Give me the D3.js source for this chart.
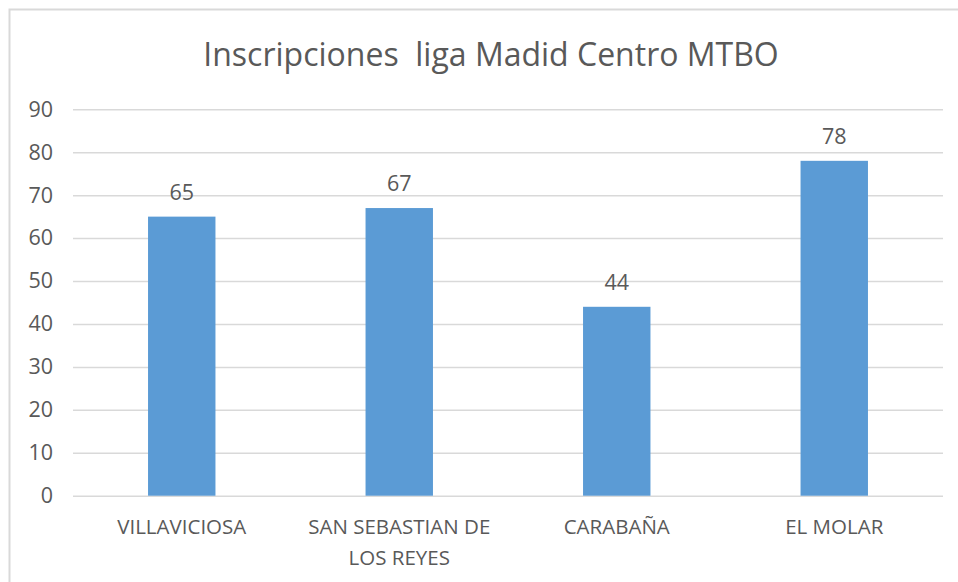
<!DOCTYPE html>
<html>
<head>
<meta charset="utf-8">
<script src="https://cdn.jsdelivr.net/npm/d3@7"></script>
<style>
  html, body { margin: 0; padding: 0; background: white; }
  svg { display: block; }
</style>
</head>
<body>
<svg id="chart" width="958" height="582"></svg>
<script>
/* DATA */
const titleText = 'Inscripciones  liga Madid Centro MTBO'
const categories = [['VILLAVICIOSA'], ['SAN SEBASTIAN DE', 'LOS REYES'], ['CARABAÑA'], ['EL MOLAR']]
const values = [65, 67, 44, 78]
const yTicks = [0, 10, 20, 30, 40, 50, 60, 70, 80, 90]

/* COLOURS */
const barBlue = '#5b9bd5'
const textGrey = '#595959'
const gridGrey = '#d9d9d9'
const fontFamily = "'Open Sans', 'DejaVu Sans', sans-serif"

const svg = d3.select('#chart')

// Chart frame (runs off the right and bottom of the picture)
svg.append('rect')
  .attr('x', 9.5)
  .attr('y', 9.5)
  .attr('width', 1000)
  .attr('height', 640)
  .attr('fill', 'white')
  .attr('stroke', gridGrey)
  .attr('stroke-width', 2)

// Title
svg.append('text')
  .attr('x', 491)
  .attr('y', 66)
  .attr('text-anchor', 'middle')
  .attr('font-family', fontFamily)
  .attr('font-size', 32)
  .attr('fill', textGrey)
  .style('white-space', 'pre')
  .text(titleText)

/* SCALES */
const plot = { left: 73, right: 943, top: 109.3, bottom: 495.7 }

const x = d3.scaleBand()
  .domain(d3.range(categories.length))
  .range([plot.left, plot.right])
  .paddingInner(0.69)
  .paddingOuter(0.345)

const y = d3.scaleLinear()
  .domain([0, 90])
  .range([plot.bottom, plot.top])

/* GRIDLINES + Y AXIS */
const yAxis = svg.append('g')
  .attr('transform', `translate(${plot.left},0)`)
  .call(d3.axisLeft(y)
    .tickValues(yTicks)
    .tickSize(-(plot.right - plot.left))
    .tickPadding(20))

yAxis.select('.domain').remove()
yAxis.selectAll('.tick line')
  .attr('stroke', gridGrey)
  .attr('stroke-width', 1.5)
yAxis.selectAll('.tick text')
  .attr('font-family', fontFamily)
  .attr('font-size', 21.5)
  .attr('fill', textGrey)

/* BARS */
svg.append('g')
  .selectAll('rect')
  .data(values)
  .join('rect')
    .attr('x', (d, i) => x(i))
    .attr('y', d => y(d))
    .attr('width', x.bandwidth())
    .attr('height', d => y(0) - y(d))
    .attr('fill', barBlue)

/* VALUE LABELS */
svg.append('g')
  .selectAll('text')
  .data(values)
  .join('text')
    .attr('x', (d, i) => x(i) + x.bandwidth() / 2)
    .attr('y', d => y(d) - 17)
    .attr('text-anchor', 'middle')
    .attr('font-family', fontFamily)
    .attr('font-size', 21.5)
    .attr('fill', textGrey)
    .text(d => d)

/* CATEGORY LABELS */
const catLabels = svg.append('g')
  .selectAll('text')
  .data(categories)
  .join('text')
    .attr('x', (d, i) => x(i) + x.bandwidth() / 2)
    .attr('y', y(0) + 38)
    .attr('text-anchor', 'middle')
    .attr('font-family', fontFamily)
    .attr('font-size', 20.5)
    .attr('fill', textGrey)

catLabels.selectAll('tspan')
  .data(d => d)
  .join('tspan')
    .attr('x', function () { return this.parentNode.getAttribute('x') })
    .attr('dy', (d, i) => i === 0 ? 0 : 31)
    .text(d => d)
</script>
</body>
</html>
